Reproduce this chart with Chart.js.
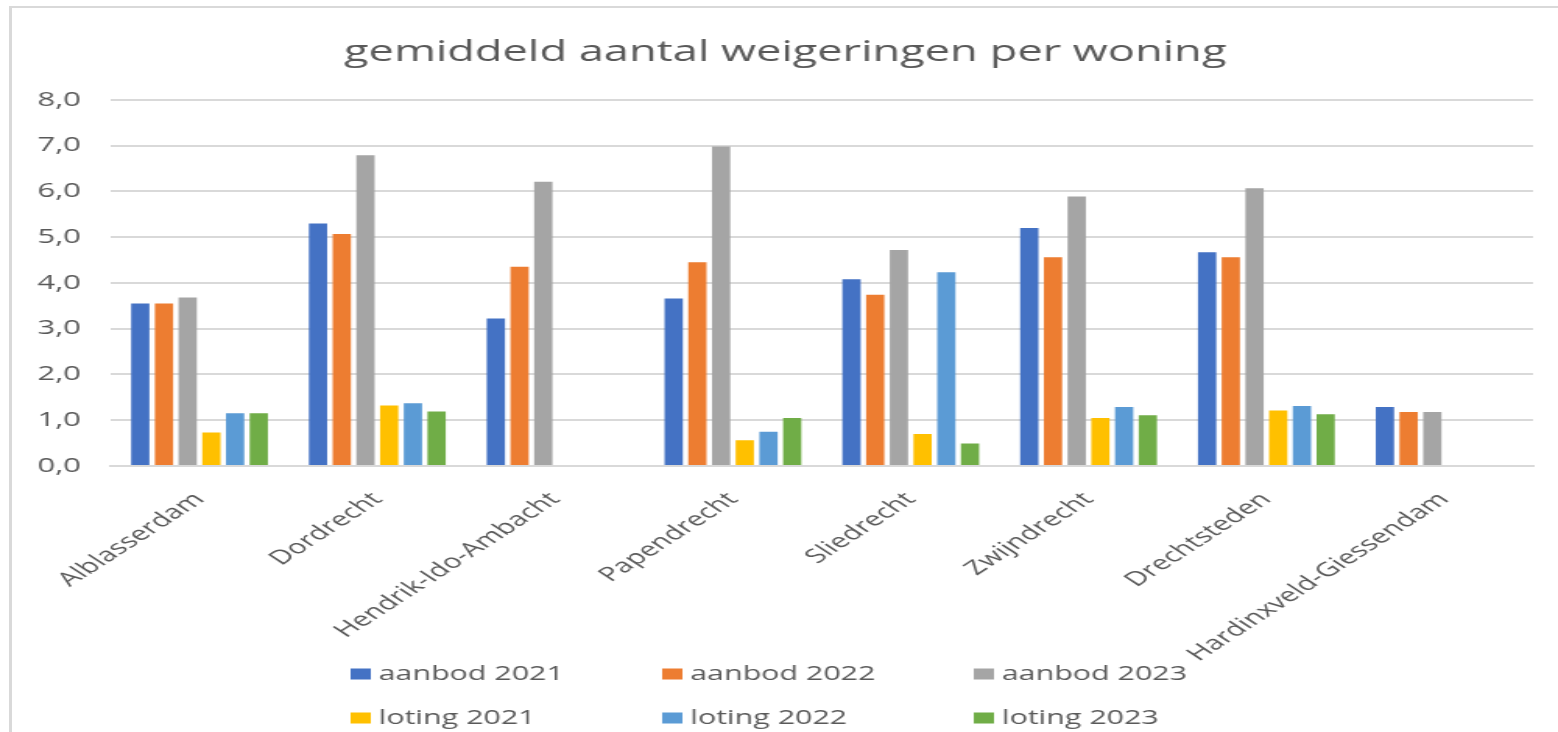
<!DOCTYPE html>
<html>
<head>
<meta charset="utf-8">
<script src="https://cdn.jsdelivr.net/npm/chart.js@4"></script>
<style>
  html, body { margin: 0; padding: 0; background: #fff; }
  body { width: 1558px; height: 732px; overflow: hidden; position: relative; }
  #rand { position: absolute; left: 9px; top: 6px; width: 1600px; height: 800px;
          border-left: 3px solid #d9d9d9; border-top: 2px solid #d9d9d9; }
  /* het origineel is horizontaal uitgerekt, dus de grafiek ook */
  #wrap { position: absolute; left: 0; top: 0; width: 1000px; height: 732px;
          transform: scaleX(1.558); transform-origin: 0 0; }
</style>
</head>
<body>
<div id="rand"></div>
<div id="wrap"><canvas id="grafiek"></canvas></div>
<script>
var gemeenten = ['Alblasserdam', 'Dordrecht', 'Hendrik-Ido-Ambacht', 'Papendrecht',
                 'Sliedrecht', 'Zwijndrecht', 'Drechtsteden', 'Hardinxveld-Giessendam'];

var aanbod2021 = [3.55, 5.30, 3.22, 3.66, 4.08, 5.20, 4.67, 1.29];
var aanbod2022 = [3.55, 5.07, 4.35, 4.45, 3.74, 4.56, 4.56, 1.18];
var aanbod2023 = [3.68, 6.79, 6.21, 6.98, 4.72, 5.89, 6.07, 1.18];
var loting2021 = [0.73, 1.32, null, 0.56, 0.70, 1.05, 1.21, null];
var loting2022 = [1.15, 1.37, null, 0.75, 4.23, 1.29, 1.31, null];
var loting2023 = [1.15, 1.19, null, 1.05, 0.49, 1.11, 1.13, null];

var titel = 'gemiddeld aantal weigeringen per woning';
var tekstKleur = '#595959';

// legenda in een raster van 3 kolommen, zoals in Excel
var legendeRaster = {
    id: 'legendeRaster',
    afterDraw: function(chart) {
        var ctx = chart.ctx;
        ctx.save();
        ctx.font = '19.5px "Open Sans"';
        ctx.textBaseline = 'middle';
        chart.data.datasets.forEach(function(ds, i) {
            var x = 225 + (i % 3) * 200;
            var y = 674 + Math.floor(i / 3) * 44;
            ctx.fillStyle = ds.backgroundColor;
            ctx.fillRect(x, y - 5.5, 13, 11);
            ctx.fillStyle = tekstKleur;
            ctx.fillText(ds.label, x + 18, y);
        });
        ctx.restore();
    }
};

function reeks(label, data, kleur) {
    return { label: label, data: data, backgroundColor: kleur,
             categoryPercentage: 0.8, barPercentage: 0.77 };
}

new Chart(document.getElementById('grafiek'), {
    type: 'bar',
    data: {
        labels: gemeenten,
        datasets: [
            reeks('aanbod 2021', aanbod2021, '#4472C4'),
            reeks('aanbod 2022', aanbod2022, '#ED7D31'),
            reeks('aanbod 2023', aanbod2023, '#A5A5A5'),
            reeks('loting 2021', loting2021, '#FFC000'),
            reeks('loting 2022', loting2022, '#5B9BD5'),
            reeks('loting 2023', loting2023, '#70AD47')
        ]
    },
    options: {
        responsive: true,
        maintainAspectRatio: false,
        animation: false,
        layout: { padding: { left: 24, right: 16, top: 0, bottom: 52 } },
        plugins: {
            legend: { display: false },
            tooltip: { enabled: false },
            title: {
                display: true,
                text: titel,
                color: tekstKleur,
                font: { family: 'Open Sans', size: 29, weight: 'normal' },
                padding: { top: 35, bottom: 30 }
            }
        },
        scales: {
            x: {
                grid: { display: false },
                border: { color: '#d9d9d9', width: 2 },
                ticks: {
                    color: tekstKleur,
                    font: { family: 'Open Sans', size: 19.5 },
                    minRotation: 45,
                    maxRotation: 45,
                    autoSkip: false,
                    padding: 14
                },
                // schuine labels mogen links buiten het plotvlak vallen
                afterFit: function(scale) { scale.paddingLeft = 0; }
            },
            y: {
                min: 0,
                max: 8,
                border: { display: false },
                grid: { color: '#d9d9d9', lineWidth: 2, drawTicks: false },
                ticks: {
                    stepSize: 1,
                    color: tekstKleur,
                    font: { family: 'Open Sans', size: 20 },
                    padding: 19,
                    callback: function(v) { return v.toFixed(1).replace('.', ','); }
                },
                // padding telt anders dubbel in de breedte
                afterFit: function(scale) { scale.width = 47; }
            }
        }
    },
    plugins: [legendeRaster]
});
</script>
</body>
</html>
